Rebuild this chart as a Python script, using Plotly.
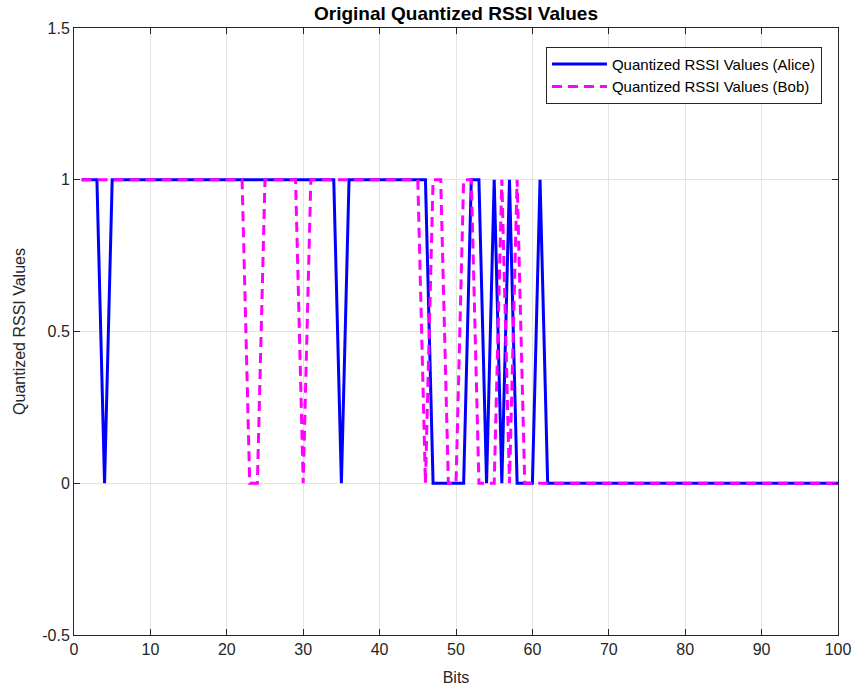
import plotly.graph_objects as go

bits = list(range(1, 101))

# Alice quantized values (1..100)
alice_ones = [1, 2, 3] + list(range(5, 35)) + list(range(36, 47)) + [52, 53, 55, 57, 61]
alice = [1 if b in alice_ones else 0 for b in bits]

# Bob quantized values
bob_ones = list(range(1, 23)) + list(range(25, 30)) + list(range(31, 46)) + [47, 48, 51, 52, 56, 58]
bob = [1 if b in bob_ones else 0 for b in bits]

x_ticks = [0, 10, 20, 30, 40, 50, 60, 70, 80, 90, 100]
y_ticks = [-0.5, 0, 0.5, 1, 1.5]
y_labels = ["-0.5", "0", "0.5", "1", "1.5"]

FONT = "Liberation Sans, Arial, sans-serif"

fig = go.Figure()
fig.add_trace(go.Scatter(x=bits, y=alice, mode="lines",
                         name="Quantized RSSI Values (Alice)",
                         line=dict(color="#0000ff", width=3)))
fig.add_trace(go.Scatter(x=bits, y=bob, mode="lines",
                         name="Quantized RSSI Values (Bob)",
                         line=dict(color="#ff00ff", width=3, dash="10px,6px")))

axis_common = dict(showline=True, linecolor="#262626", linewidth=1, mirror="ticks",
                   ticks="inside", ticklen=6, tickcolor="#262626", automargin=False,
                   showgrid=True, gridcolor="#e3e3e3", gridwidth=1, zeroline=False,
                   tickfont=dict(family=FONT, size=16, color="#262626"))

fig.update_layout(
    width=854, height=689,
    margin=dict(l=74, r=16, t=28, b=54, autoexpand=False),
    paper_bgcolor="white", plot_bgcolor="white",
    title=dict(text="<b>Original Quantized RSSI Values</b>", xref="paper", x=0.5,
               xanchor="center", yref="container", y=0.981, yanchor="middle",
               font=dict(family=FONT, size=19, color="black")),
    xaxis=dict(range=[0, 100], tickvals=x_ticks,
               title=dict(text="Bits", standoff=14,
                          font=dict(family=FONT, size=16, color="#262626")),
               **axis_common),
    yaxis=dict(range=[-0.5, 1.5], tickvals=y_ticks, ticktext=y_labels,
               title=dict(text="Quantized RSSI Values", standoff=12,
                          font=dict(family=FONT, size=16, color="#262626")),
               **axis_common),
    legend=dict(x=0.979, y=0.969, xanchor="right", yanchor="top",
                bgcolor="white", bordercolor="#262626", borderwidth=1,
                font=dict(family=FONT, size=15, color="black"),
                tracegroupgap=0, itemwidth=55),
    showlegend=True,
)

fig.write_html("out.html", config={"displayModeBar": False},
               post_script="document.body.style.margin='0px';")
